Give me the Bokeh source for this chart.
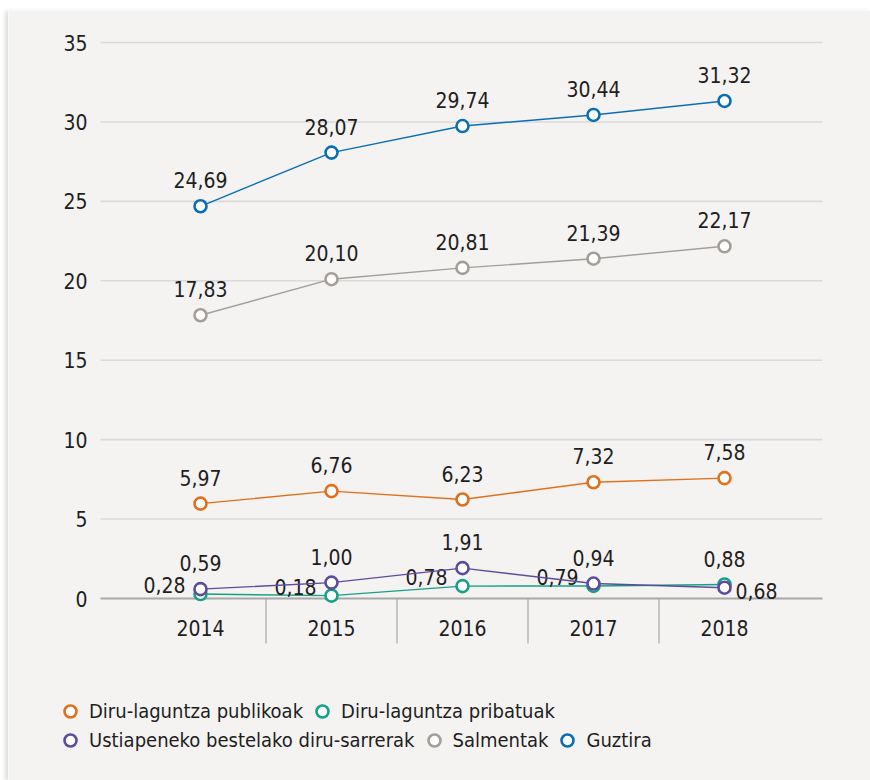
from bokeh.plotting import figure
from bokeh.models import Range1d, ColumnDataSource, Legend, LegendItem
from bokeh.core.properties import value
from bokeh.embed import file_html
from bokeh.resources import INLINE

# ---- data ----
years = ["2014", "2015", "2016", "2017", "2018"]
publikoak = [5.97, 6.76, 6.23, 7.32, 7.58]
pribatuak = [0.28, 0.18, 0.78, 0.79, 0.88]
ustiapen = [0.59, 1.00, 1.91, 0.94, 0.68]
salmentak = [17.83, 20.10, 20.81, 21.39, 22.17]
guztira = [24.69, 28.07, 29.74, 30.44, 31.32]
y_ticks = [0, 5, 10, 15, 20, 25, 30, 35]

names = ["Diru-laguntza publikoak", "Diru-laguntza pribatuak",
         "Ustiapeneko bestelako diru-sarrerak", "Salmentak", "Guztira"]

# ---- style / layout ----
FONT = "DejaVu Sans Condensed"
BG = "#f4f3f2"
TXT = "#1e1e1e"
GRID = "#dadada"
AXIS = "#a8a8a8"
colors = ["#e0701b", "#16a085", "#5e4b9c", "#a49e99", "#0a6eb4"]
series = [publikoak, pribatuak, ustiapen, salmentak, guztira]
placements = [
    ["above"] * 5,
    ["left", "left", "left", "left", "above"],
    ["above", "above", "above", "above", "right"],
    ["above"] * 5,
    ["above"] * 5,
]

W, H = 862, 770            # figure size (placed at page x=8, y=10)
CAT_PX = 131.0             # px per category
X_FIRST = 192.0            # px of first category centre inside figure
PLOT_L, PLOT_R = 92.0, 814.0   # plotting area (grid) left/right in px
Y_ZERO = 588.0             # px of value 0 from top of figure
Y_TOP = 32.0               # px of top tick from top of figure
SEP_PX = 45.0              # length of category separators below axis

ymax_tick = max(y_ticks)
py = (Y_ZERO - Y_TOP) / ymax_tick          # px per unit
x_lo = (0 - X_FIRST) / CAT_PX
x_hi = (W - X_FIRST) / CAT_PX
y_hi = Y_ZERO / py
y_lo = -(H - Y_ZERO) / py
gx0 = (PLOT_L - X_FIRST) / CAT_PX
gx1 = (PLOT_R - X_FIRST) / CAT_PX

xs = list(range(len(years)))

p = figure(width=W, height=H, output_backend="svg", toolbar_location=None,
           x_range=Range1d(x_lo, x_hi), y_range=Range1d(y_lo, y_hi),
           x_axis_type=None, y_axis_type=None, min_border=0)
p.styles = {"margin-left": "8px", "margin-top": "10px",
            "box-shadow": "-3px 1px 4px rgba(0,0,0,0.13)"}
p.background_fill_color = BG
p.border_fill_color = BG
p.outline_line_color = None

# grid lines
grid_src = ColumnDataSource(dict(y=[t for t in y_ticks if t != 0]))
p.segment(x0=gx0, x1=gx1, y0="y", y1="y", source=grid_src,
          line_color=GRID, line_width=1.6)
# y tick labels
p.text(x=gx0, y="y", text="t",
       source=ColumnDataSource(dict(y=y_ticks, t=[str(t) for t in y_ticks])),
       text_font=value(FONT), text_font_size="21px", text_color=TXT,
       text_align="right", text_baseline="middle", x_offset=-13)
# x axis line
p.segment(x0=gx0, x1=gx1, y0=0, y1=0, line_color=AXIS, line_width=2.2)
# category separators
sep_src = ColumnDataSource(dict(x=[i + 0.5 for i in xs[:-1]]))
p.segment(x0="x", x1="x", y0=0, y1=-SEP_PX / py, source=sep_src,
          line_color=AXIS, line_width=1.2)
# category labels
p.text(x="x", y=0, text="t", source=ColumnDataSource(dict(x=xs, t=years)),
       text_font=value(FONT), text_font_size="21px", text_color=TXT,
       text_align="center", text_baseline="middle", y_offset=29)

scatter_renderers = []
for vals, col, place in zip(series, colors, placements):
    src = ColumnDataSource(dict(x=xs, y=vals))
    p.line("x", "y", source=src, line_color=col, line_width=1.4)
    r = p.scatter("x", "y", source=src, size=12, fill_color="white",
                  line_color=col, line_width=2.6)
    scatter_renderers.append(r)
    labels = [f"{v:.2f}".replace(".", ",") for v in vals]
    for mode in ("above", "left", "right"):
        idx = [i for i, m in enumerate(place) if m == mode]
        if not idx:
            continue
        sub = ColumnDataSource(dict(x=[xs[i] for i in idx],
                                    y=[vals[i] for i in idx],
                                    t=[labels[i] for i in idx]))
        if mode == "above":
            kw = dict(text_align="center", x_offset=0, y_offset=-26)
        elif mode == "left":
            kw = dict(text_align="right", x_offset=-15, y_offset=-9)
        else:
            kw = dict(text_align="left", x_offset=11, y_offset=3)
        p.text("x", "y", text="t", source=sub, text_font=value(FONT),
               text_font_size="21px", text_color=TXT, text_baseline="middle",
               **kw)

def make_legend(indices, loc):
    items = [LegendItem(label=names[i], renderers=[scatter_renderers[i]])
             for i in indices]
    return Legend(items=items, orientation="horizontal", location=loc,
                  glyph_width=30, glyph_height=30, label_height=30,
                  label_standoff=4, spacing=4, padding=0, margin=0,
                  background_fill_alpha=0, border_line_color=None,
                  label_text_font=FONT, label_text_font_size="20px",
                  label_text_color=TXT)

p.add_layout(make_legend([0, 1], (47, 54)))
p.add_layout(make_legend([2, 3, 4], (47, 25)))

open("out.html", "w").write(file_html(p, INLINE))
